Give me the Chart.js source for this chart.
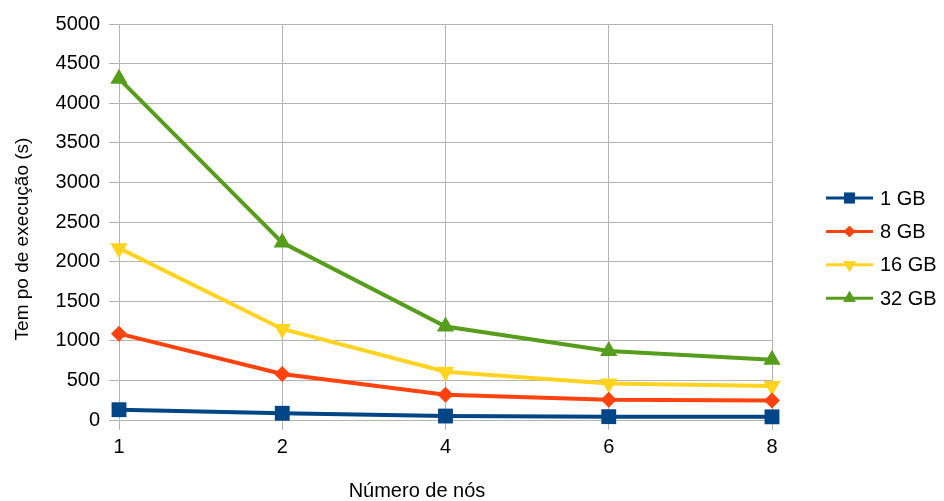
<!DOCTYPE html>
<html>
<head>
<meta charset="utf-8">
<script src="https://cdn.jsdelivr.net/npm/chart.js@4/dist/chart.umd.min.js"></script>
<style>
  html, body { margin: 0; padding: 0; background: #ffffff; }
  #wrap { position: relative; width: 944px; height: 501px; }
</style>
</head>
<body>
<div id="wrap"><canvas id="c" width="944" height="501"></canvas></div>
<script>
// Number of nodes (x categories)
const nodes = ['1', '2', '4', '6', '8'];

// Execution time in seconds per input size
const gb1  = [130, 85, 50, 42, 40];
const gb8  = [1090, 580, 320, 255, 245];
const gb16 = [2170, 1150, 610, 460, 430];
const gb32 = [4310, 2240, 1180, 870, 760];

const seriesNames = ['1 GB', '8 GB', '16 GB', '32 GB'];
const yTicks = [0, 500, 1000, 1500, 2000, 2500, 3000, 3500, 4000, 4500, 5000];

const xTitle = 'Número de nós';
const yTitle = 'Tem po de execução (s)';

const FONT = '"Liberation Sans", Arial, sans-serif';
const GRID = '#b3b3b3';

function series(label, data, color, style, radius, rotation) {
  return {
    label, data,
    borderColor: color, backgroundColor: color,
    borderWidth: 4,
    pointStyle: style, pointRadius: radius, pointHoverRadius: radius,
    pointRotation: rotation, pointBorderWidth: 0,
    pointBackgroundColor: color,
    tension: 0, clip: false
  };
}

const datasets = [
  series(seriesNames[0], gb1,  '#004586', 'rect',     10.5, 0),
  series(seriesNames[1], gb8,  '#ff420e', 'rectRot',  8, 0),
  series(seriesNames[2], gb16, '#ffd320', 'triangle', 10, 180),
  series(seriesNames[3], gb32, '#579d1c', 'triangle', 10, 0)
];

// Axis titles and the line+marker legend on the right
const decorations = {
  id: 'decorations',
  afterDraw(chart) {
    const ctx = chart.ctx;
    ctx.save();
    ctx.fillStyle = '#000';
    ctx.textAlign = 'center';
    ctx.textBaseline = 'middle';
    ctx.font = '20px ' + FONT;
    ctx.fillText(xTitle, 417, 491);
    ctx.save();
    ctx.translate(23, 239);
    ctx.rotate(-Math.PI / 2);
    ctx.font = '19px ' + FONT;
    ctx.fillText(yTitle, 0, 0);
    ctx.restore();

    ctx.font = '20px ' + FONT;
    const x0 = 826, x1 = 873, textX = 880, top = 198, step = 33.4;
    chart.data.datasets.forEach((ds, i) => {
      const y = top + i * step;
      ctx.strokeStyle = ds.borderColor;
      ctx.lineWidth = 3;
      ctx.beginPath();
      ctx.moveTo(x0, y);
      ctx.lineTo(x1, y);
      ctx.stroke();
      ctx.fillStyle = ds.borderColor;
      ctx.beginPath();
      Chart.helpers.drawPoint(ctx, {
        pointStyle: ds.pointStyle,
        rotation: ds.pointRotation,
        radius: ds.pointRadius * 0.72,
        borderWidth: 0
      }, (x0 + x1) / 2, y);
      ctx.fill();
      ctx.fillStyle = '#000';
      ctx.textAlign = 'left';
      ctx.fillText(ds.label, textX, y + 1);
    });
    ctx.restore();
  }
};

new Chart(document.getElementById('c'), {
  type: 'line',
  data: { labels: nodes, datasets },
  options: {
    responsive: false,
    animation: false,
    devicePixelRatio: 1,
    layout: { padding: { top: 24, right: 172, left: 0, bottom: 0 } },
    plugins: {
      legend: { display: false },
      tooltip: { enabled: false },
      title: { display: false }
    },
    scales: {
      x: {
        type: 'category',
        offset: false,
        grid: { color: GRID, lineWidth: 1, tickLength: 10, drawTicks: true },
        border: { color: GRID, width: 1 },
        ticks: { color: '#000', font: { family: FONT, size: 20 }, padding: 5, maxRotation: 0 },
        afterFit(scale) { scale.height = 81; }
      },
      y: {
        min: 0, max: 5000,
        afterBuildTicks(scale) { scale.ticks = yTicks.map(v => ({ value: v })); },
        grid: { color: GRID, lineWidth: 1, tickLength: 10, drawTicks: true },
        border: { color: GRID, width: 1 },
        ticks: {
          color: '#000', font: { family: FONT, size: 20 }, padding: 9,
          callback: (v) => String(v)
        },
        afterFit(scale) { scale.width = 119; }
      }
    }
  },
  plugins: [decorations]
});
</script>
</body>
</html>
